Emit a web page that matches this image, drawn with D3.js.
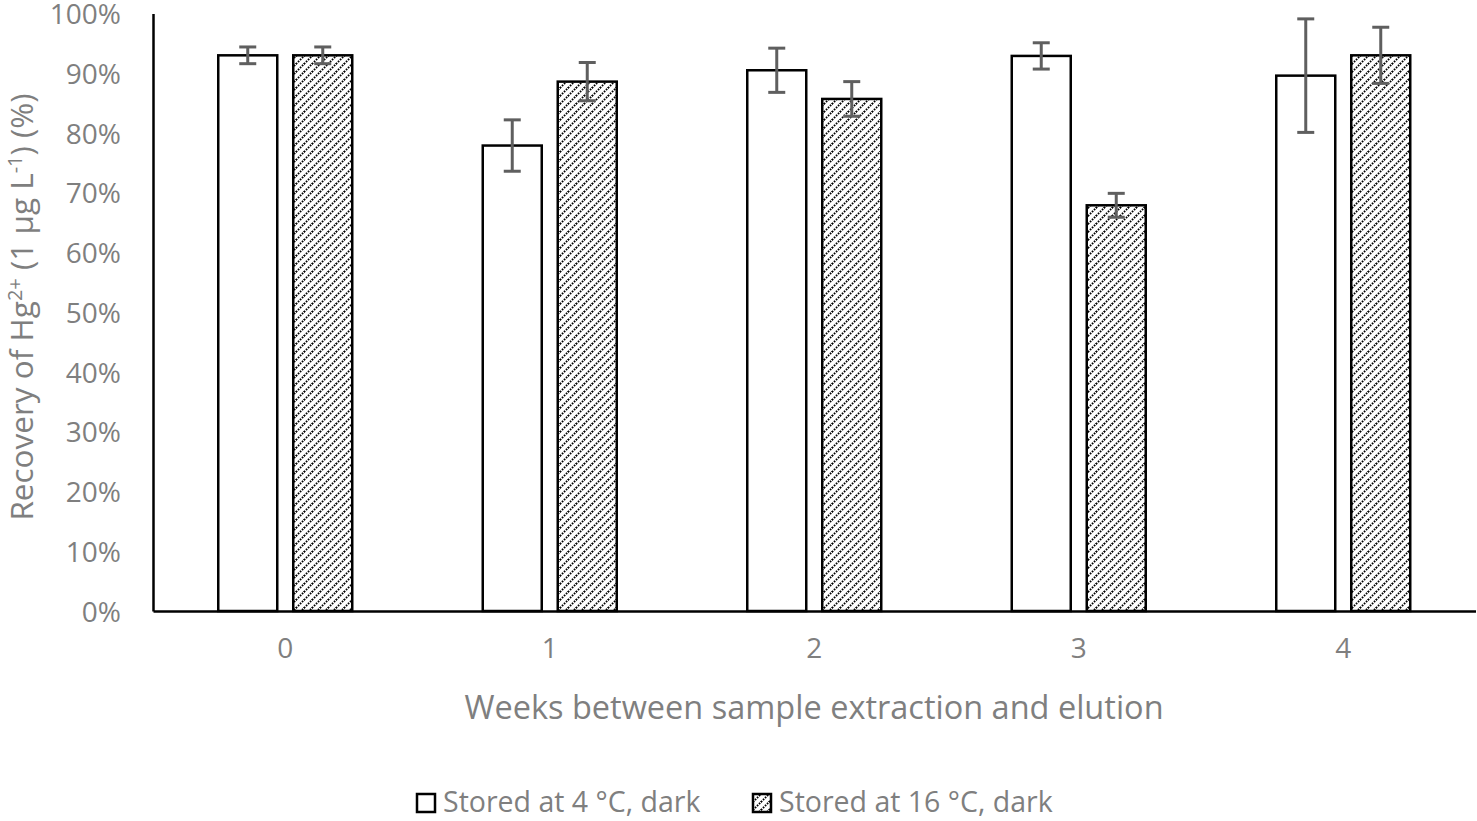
<!DOCTYPE html>
<html>
<head>
<meta charset="utf-8">
<script src="https://cdn.jsdelivr.net/npm/d3@7"></script>
<style>
  html, body { margin: 0; padding: 0; background: #fff; }
  svg { display: block; font-family: "Open Sans", "Noto Sans", sans-serif; }
</style>
</head>
<body>
<script>
// chart data
const weeks = ['0', '1', '2', '3', '4'];
const series = ['Stored at 4 °C, dark', 'Stored at 16 °C, dark'];
const recovery4C = [0.930, 0.779, 0.905, 0.929, 0.896];
const error4C = [0.014, 0.043, 0.037, 0.022, 0.095];
const recovery16C = [0.930, 0.886, 0.857, 0.679, 0.930];
const error16C = [0.014, 0.032, 0.029, 0.020, 0.047];
const yTicks = [0, 0.1, 0.2, 0.3, 0.4, 0.5, 0.6, 0.7, 0.8, 0.9, 1.0];

const w = 1477, h = 821;
const textColor = '#7f7f7f';

const rows = [];
weeks.forEach((wk, i) => {
  rows.push({ week: wk, s: series[0], v: recovery4C[i], e: error4C[i] });
  rows.push({ week: wk, s: series[1], v: recovery16C[i], e: error16C[i] });
});

const svg = d3.select('body').append('svg')
  .attr('width', w)
  .attr('height', h);

// dotted upward diagonal hatch
const defs = svg.append('defs');
const pat = defs.append('pattern')
  .attr('id', 'hatch')
  .attr('patternUnits', 'userSpaceOnUse')
  .attr('width', 8)
  .attr('height', 8);
pat.append('rect').attr('width', 8).attr('height', 8).attr('fill', '#fff');
pat.append('path')
  .attr('d', 'M0,8 L8,0')
  .attr('stroke', '#000')
  .attr('stroke-width', 1.9)
  .attr('stroke-dasharray', '1.6,1.23');
pat.append('path')
  .attr('d', 'M-1,1 L0.6,-0.6 M7.4,8.6 L9,7')
  .attr('stroke', '#000')
  .attr('stroke-width', 1.9);

const x0 = d3.scaleBand()
  .domain(weeks)
  .range([153, 1475.5])
  .paddingInner(0.4934)
  .paddingOuter(0.2467);

const x1 = d3.scaleBand()
  .domain(series)
  .range([0, x0.bandwidth()])
  .paddingInner(0.2133);

const y = d3.scaleLinear()
  .domain([0, 1])
  .range([611, 13.5]);

// bars
svg.append('g')
  .selectAll('rect')
  .data(rows)
  .join('rect')
  .attr('x', d => x0(d.week) + x1(d.s))
  .attr('y', d => y(d.v))
  .attr('width', x1.bandwidth())
  .attr('height', d => y(0) - y(d.v))
  .attr('fill', d => d.s === series[0] ? '#fff' : 'url(#hatch)')
  .attr('stroke', '#000')
  .attr('stroke-width', 2.5);

// error bars
const eb = svg.append('g')
  .attr('stroke', '#5f5f5f')
  .attr('stroke-width', 3)
  .selectAll('g')
  .data(rows)
  .join('g')
  .attr('transform', d => `translate(${x0(d.week) + x1(d.s) + x1.bandwidth() / 2},0)`);
eb.append('line')
  .attr('y1', d => y(d.v + d.e))
  .attr('y2', d => y(d.v - d.e));
eb.append('line')
  .attr('x1', -8.5).attr('x2', 8.5)
  .attr('y1', d => y(d.v + d.e))
  .attr('y2', d => y(d.v + d.e));
eb.append('line')
  .attr('x1', -8.5).attr('x2', 8.5)
  .attr('y1', d => y(d.v - d.e))
  .attr('y2', d => y(d.v - d.e));

// y axis
const yAxis = svg.append('g')
  .attr('transform', 'translate(153,0)')
  .call(d3.axisLeft(y).tickValues(yTicks).tickFormat(d3.format('.0%')).tickSize(0).tickPadding(32));
yAxis.select('.domain').attr('stroke', '#000').attr('stroke-width', 2.5);
yAxis.selectAll('text')
  .attr('fill', textColor)
  .attr('font-size', 28)
  .attr('dy', '0.36em')
  .attr('font-family', '"Open Sans", sans-serif');

// x axis
const xAxis = svg.append('g')
  .attr('transform', `translate(0,${y(0)})`)
  .call(d3.axisBottom(x0).tickSize(0).tickPadding(27));
xAxis.select('.domain').attr('stroke', '#000').attr('stroke-width', 2.5);
xAxis.selectAll('text')
  .attr('fill', textColor)
  .attr('font-size', 28)
  .attr('font-family', '"Open Sans", sans-serif');

// axis titles
svg.append('text')
  .attr('x', 814)
  .attr('y', 719)
  .attr('text-anchor', 'middle')
  .attr('fill', textColor)
  .attr('font-size', 32.5)
  .text('Weeks between sample extraction and elution');

const yt = svg.append('text')
  .attr('transform', 'translate(33,307) rotate(-90)')
  .attr('text-anchor', 'middle')
  .attr('fill', textColor)
  .attr('font-size', 31.5);
yt.append('tspan').text('Recovery of Hg');
yt.append('tspan').attr('font-size', 20).attr('dy', -11).text('2+');
yt.append('tspan').attr('dy', 11).text(' (1 µg L');
yt.append('tspan').attr('font-size', 20).attr('dy', -11).text('-1');
yt.append('tspan').attr('dy', 11).text(') (%)');

// legend
const legendX = [417, 753];
const lg = svg.append('g')
  .selectAll('g')
  .data(series)
  .join('g')
  .attr('transform', (d, i) => `translate(${legendX[i]},794)`);
lg.append('rect')
  .attr('width', 18)
  .attr('height', 18)
  .attr('fill', (d, i) => i === 0 ? '#fff' : 'url(#hatch)')
  .attr('stroke', '#000')
  .attr('stroke-width', 2.5);
lg.append('text')
  .attr('x', 26)
  .attr('y', 18)
  .attr('fill', textColor)
  .attr('font-size', 28.5)
  .text(d => d);
</script>
</body>
</html>
